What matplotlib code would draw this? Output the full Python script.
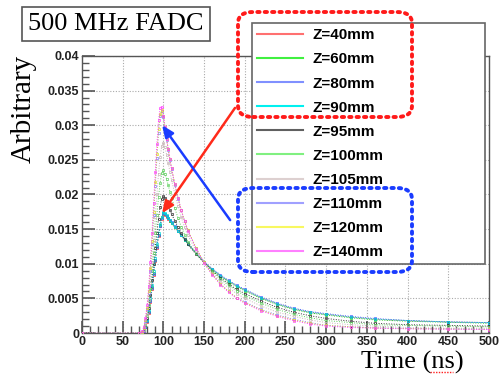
import matplotlib
matplotlib.use("Agg")
import matplotlib.pyplot as plt
from matplotlib.lines import Line2D
from matplotlib.patches import FancyBboxPatch
from matplotlib.ticker import MultipleLocator

# sample times (ns)
t_ns = [0, 70, 74, 76, 78, 80, 82, 84, 86, 88, 90, 92, 94, 96, 98, 100, 102,
        104, 106, 108, 110, 114, 118, 122, 126, 130, 140, 150, 160, 170, 180,
        190, 200, 220, 240, 260, 280, 300, 330, 360, 400, 450, 500]

labels = ["Z=40mm", "Z=60mm", "Z=80mm", "Z=90mm", "Z=95mm",
          "Z=100mm", "Z=105mm", "Z=110mm", "Z=120mm", "Z=140mm"]

z40 = [0, 0, 0.0001, 0.0003, 0.0008, 0.0016, 0.0029, 0.0045, 0.0064, 0.0084,
       0.0104, 0.0123, 0.0140, 0.0154, 0.0165, 0.0172, 0.0171, 0.0168, 0.0165,
       0.0162, 0.0159, 0.0153, 0.0147, 0.0141, 0.0135, 0.0129, 0.0115, 0.0102,
       0.0092, 0.0083, 0.0075, 0.0068, 0.0062, 0.0051, 0.0042, 0.0035, 0.0030,
       0.0027, 0.0023, 0.0020, 0.00178, 0.0016, 0.0015]
z60 = [0, 0, 0.0001, 0.0004, 0.0009, 0.0018, 0.0031, 0.0047, 0.0066, 0.0086,
       0.0106, 0.0125, 0.0142, 0.0156, 0.0167, 0.0173, 0.0172, 0.0169, 0.0166,
       0.0162, 0.0159, 0.0153, 0.0147, 0.0141, 0.0135, 0.0129, 0.0115, 0.0102,
       0.0091, 0.0082, 0.0074, 0.0067, 0.0061, 0.0050, 0.0041, 0.0034, 0.0029,
       0.0026, 0.0022, 0.0019, 0.0017, 0.00155, 0.0014]
z80 = [0, 0, 0.0001, 0.0003, 0.0008, 0.0017, 0.0030, 0.0046, 0.0065, 0.0085,
       0.0105, 0.0124, 0.0141, 0.0155, 0.0166, 0.0173, 0.0172, 0.0169, 0.0166,
       0.0163, 0.0160, 0.0154, 0.0148, 0.0142, 0.0136, 0.0130, 0.0116, 0.0103,
       0.0093, 0.0084, 0.0076, 0.0069, 0.0063, 0.0052, 0.0043, 0.0036, 0.0031,
       0.0028, 0.0024, 0.0021, 0.0018, 0.0016, 0.0015]
z90 = [0, 0, 0.0001, 0.0004, 0.0010, 0.0019, 0.0033, 0.0050, 0.0069, 0.0089,
       0.0109, 0.0128, 0.0145, 0.0158, 0.0168, 0.0174, 0.0173, 0.0170, 0.0166,
       0.0163, 0.0159, 0.0153, 0.0147, 0.0141, 0.0135, 0.0129, 0.0115, 0.0102,
       0.0092, 0.0083, 0.0075, 0.0068, 0.0062, 0.0051, 0.0042, 0.0035, 0.0030,
       0.0027, 0.0023, 0.0020, 0.0018, 0.0016, 0.0015]
z95 = [0, 0, 0.0001, 0.0004, 0.0011, 0.0021, 0.0036, 0.0055, 0.0077, 0.0100,
       0.0123, 0.0145, 0.0165, 0.0182, 0.0194, 0.0198, 0.0195, 0.0190, 0.0184,
       0.0178, 0.0172, 0.0162, 0.0153, 0.0144, 0.0136, 0.0128, 0.0114, 0.0102,
       0.0090, 0.0080, 0.0071, 0.0063, 0.0057, 0.0046, 0.0037, 0.0030, 0.0025,
       0.0021, 0.0017, 0.0014, 0.0012, 0.0011, 0.0010]
z100 = [0, 0, 0.0001, 0.0005, 0.0012, 0.0024, 0.0041, 0.0063, 0.0089, 0.0116,
        0.0144, 0.0171, 0.0196, 0.0217, 0.0231, 0.0235, 0.0230, 0.0222, 0.0213,
        0.0204, 0.0195, 0.0180, 0.0166, 0.0153, 0.0142, 0.0132, 0.0115, 0.0102,
        0.0089, 0.0078, 0.0069, 0.0061, 0.0054, 0.0043, 0.0034, 0.0027, 0.0022,
        0.0018, 0.0015, 0.0012, 0.0011, 0.0010, 0.0009]
z105 = [0, 0, 0.0001, 0.0005, 0.0013, 0.0027, 0.0047, 0.0072, 0.0102, 0.0135,
        0.0168, 0.0200, 0.0230, 0.0254, 0.0270, 0.0275, 0.0268, 0.0257, 0.0245,
        0.0233, 0.0221, 0.0201, 0.0183, 0.0167, 0.0153, 0.0141, 0.0119, 0.0102,
        0.0087, 0.0075, 0.0065, 0.0057, 0.0050, 0.0039, 0.0030, 0.0024, 0.0019,
        0.0015, 0.0012, 0.0010, 0.0008, 0.0007, 0.0007]
z110 = [0, 0, 0.0002, 0.0007, 0.0018, 0.0034, 0.0058, 0.0090, 0.0128, 0.0170,
        0.0212, 0.0253, 0.0289, 0.0313, 0.0320, 0.0312, 0.0296, 0.0279, 0.0264,
        0.0250, 0.0237, 0.0214, 0.0194, 0.0177, 0.0162, 0.0149, 0.0123, 0.0102,
        0.0085, 0.0071, 0.0060, 0.0051, 0.0045, 0.0034, 0.0026, 0.0020, 0.0015,
        0.0011, 0.0009, 0.00075, 0.00066, 0.0006, 0.00055]
z120 = [0, 0, 0.0002, 0.0007, 0.0019, 0.0036, 0.0061, 0.0094, 0.0133, 0.0175,
        0.0218, 0.0259, 0.0294, 0.0316, 0.0322, 0.0313, 0.0297, 0.0280, 0.0265,
        0.0251, 0.0238, 0.0215, 0.0195, 0.0177, 0.0162, 0.0149, 0.0123, 0.0102,
        0.0085, 0.0071, 0.0060, 0.0051, 0.0044, 0.0033, 0.0025, 0.0019, 0.0014,
        0.0011, 0.0009, 0.00072, 0.00064, 0.00058, 0.00053]
z140 = [0, 0, 0.0003, 0.0009, 0.0022, 0.0041, 0.0068, 0.0103, 0.0144, 0.0188,
        0.0232, 0.0273, 0.0307, 0.0325, 0.0327, 0.0314, 0.0297, 0.0280, 0.0265,
        0.0251, 0.0238, 0.0215, 0.0195, 0.0177, 0.0161, 0.0148, 0.0122, 0.0101,
        0.0084, 0.0070, 0.0059, 0.0050, 0.0043, 0.0032, 0.0024, 0.0018, 0.0013,
        0.0010, 0.0008, 0.0007, 0.0006, 0.00055, 0.0005]

series = [z40, z60, z80, z90, z95, z100, z105, z110, z120, z140]
colors = ["#ff3030", "#20d020", "#4060ff", "#00d8d8", "#303030",
          "#60d060", "#c8b8b8", "#8080ff", "#e0e020", "#ff40ff"]
legend_colors = ["#ff7070", "#40f040", "#8090ff", "#00f0f0", "#606060",
                 "#80f080", "#ddd0d0", "#a0a0ff", "#f8f860", "#ff80ff"]

serif = "Liberation Serif"
sans = "Liberation Sans"

fig = plt.figure(figsize=(5.04, 3.78), dpi=100)
ax = fig.add_axes([0.1627, 0.119, 0.8075, 0.733])

for vals, c in zip(series, colors):
    ax.plot(t_ns, vals, linestyle=(0, (1, 1.6)), linewidth=0.7, color=c,
            marker="s", markersize=1.6, markerfacecolor="none",
            markeredgewidth=0.5, markeredgecolor=c, zorder=3)

ax.set_xlim(0, 500)
ax.set_ylim(0, 0.04)
ax.xaxis.set_major_locator(MultipleLocator(50))
ax.xaxis.set_minor_locator(MultipleLocator(10))
ax.yaxis.set_major_locator(MultipleLocator(0.005))
ax.yaxis.set_minor_locator(MultipleLocator(0.001))
ax.set_yticks([0, 0.005, 0.01, 0.015, 0.02, 0.025, 0.03, 0.035, 0.04])
ax.set_yticklabels(["0", "0.005", "0.01", "0.015", "0.02", "0.025", "0.03",
                    "0.035", "0.04"])
ax.tick_params(which="major", direction="in", length=9, width=1.2,
               color="#555555", pad=2)
ax.tick_params(which="minor", direction="in", length=5, width=1,
               color="#555555")
for lab in ax.get_xticklabels() + ax.get_yticklabels():
    lab.set_fontfamily(sans)
    lab.set_fontweight("bold")
    lab.set_fontsize(9)
    lab.set_color("#222222")
ax.grid(True, which="major", linestyle=(0, (1, 1.5)), color="#aaaaaa",
        linewidth=0.8)
for sp in ax.spines.values():
    sp.set_color("#555555")
    sp.set_linewidth(1)

# legend
handles = [Line2D([], [], color=c, linewidth=1.5) for c in legend_colors]
leg = ax.legend(handles, labels, loc="upper left",
                bbox_to_anchor=(252 / 504, 1 - 262 / 378, 233 / 504, 239 / 378),
                bbox_transform=fig.transFigure, mode="expand",
                prop={"family": sans, "weight": "bold", "size": 11},
                handlelength=3.0, handletextpad=0.6, labelspacing=0.66,
                borderpad=0.35, borderaxespad=0, fancybox=False,
                framealpha=1, edgecolor="#666666")
leg.get_frame().set_linewidth(1.2)
leg.set_zorder(5)

# arrows
ax.annotate("", xy=(98.4, 0.0173), xytext=(188, 0.0325),
            arrowprops=dict(arrowstyle="-|>,head_length=0.7,head_width=0.3",
                            color="#ff2a1a", lw=1.8, shrinkA=0, shrinkB=0),
            zorder=6)
ax.annotate("", xy=(98.4, 0.0300), xytext=(182, 0.0163),
            arrowprops=dict(arrowstyle="-|>,head_length=0.7,head_width=0.3",
                            color="#1a3cff", lw=1.8, shrinkA=0, shrinkB=0),
            zorder=6)

# dotted rounded boxes
for (x0, y0, x1, y1, c) in [(238, 12, 412, 117, "#ff1a1a"),
                            (238, 188, 412, 272, "#1a3cff")]:
    box = FancyBboxPatch((x0 / 504, 1 - y1 / 378), (x1 - x0) / 504,
                         (y1 - y0) / 378,
                         boxstyle="round,pad=0,rounding_size=0.03",
                         transform=fig.transFigure, fill=False,
                         edgecolor=c, linewidth=2.8,
                         linestyle=(0, (0.6, 1.3)), capstyle="round",
                         zorder=10)
    fig.patches.append(box)

# title box
fig.text(116 / 504, 1 - 24 / 378, "500 MHz FADC", family=serif, fontsize=19,
         ha="center", va="center",
         bbox=dict(boxstyle="square,pad=0.22", facecolor="white",
                   edgecolor="#555555", linewidth=1.2))

fig.text(24 / 504, 1 - 109 / 378, "Arbitrary", family=serif, fontsize=21,
         rotation=90, ha="center", va="center")
fig.text(412 / 504, 1 - 362 / 378, "Time (ns)", family=serif, fontsize=19,
         ha="center", va="center")
fig.lines.append(Line2D([430 / 504, 453 / 504], [1 - 372 / 378, 1 - 372 / 378],
                        transform=fig.transFigure, color="#ff2020",
                        linewidth=1, linestyle=(0, (1, 1))))

fig.savefig("out.png", dpi=100)
